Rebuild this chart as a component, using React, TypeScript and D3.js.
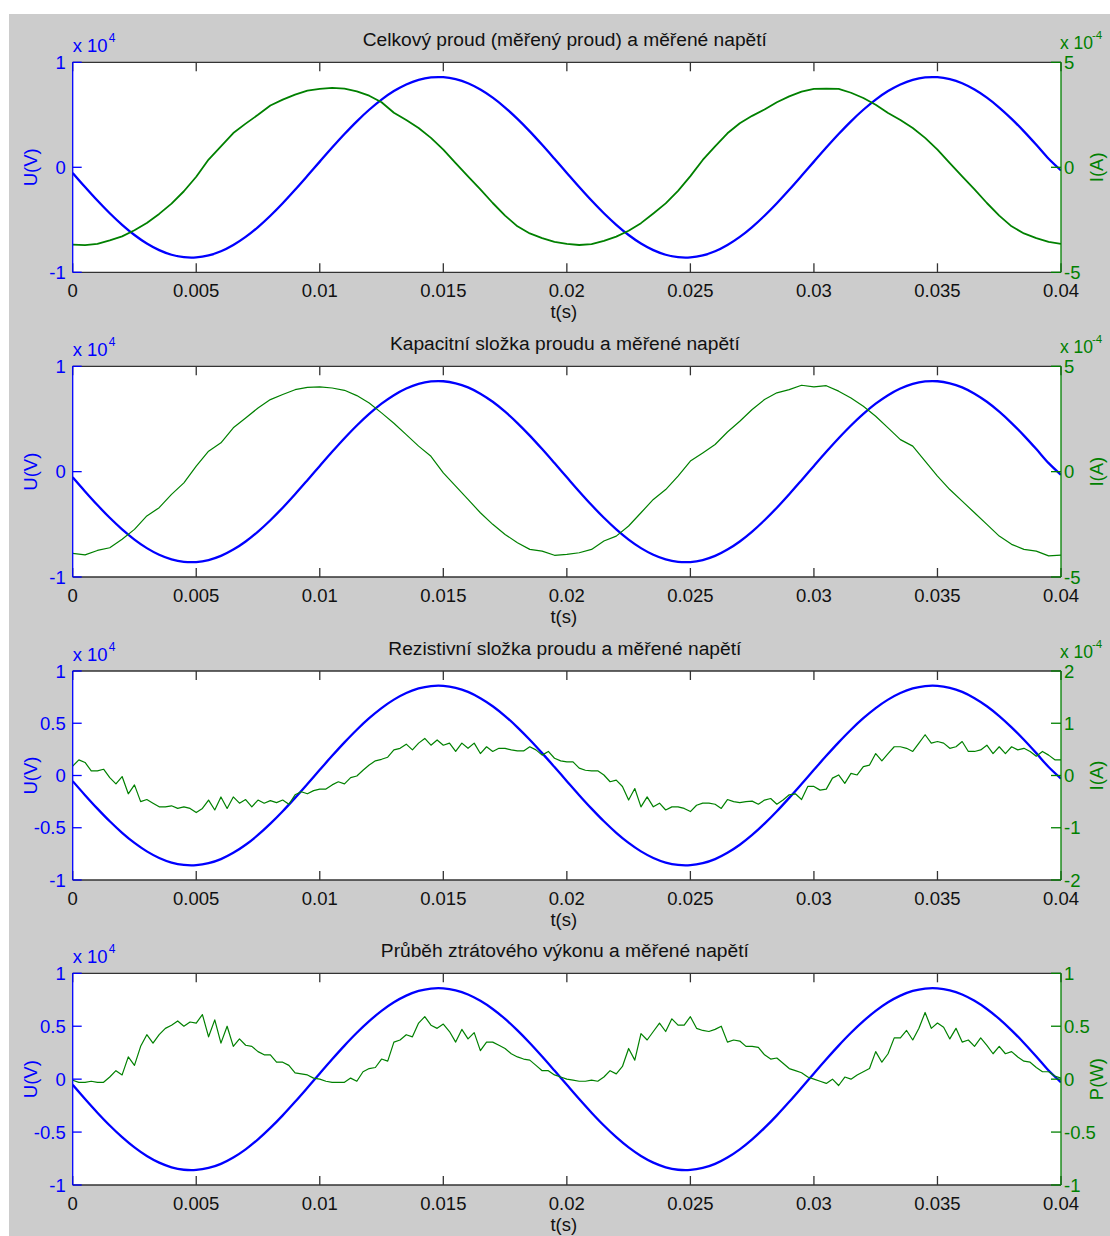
import React from 'react';
import * as d3 from 'd3';

// ---------- DATA ----------
// time grids (s)
const T_END = 0.04;
const STEP_COARSE = 0.0005; // 81 samples
const STEP_FINE = 0.00025; // 161 samples

// measured voltage, units of 1e4 V (sampled every 0.5 ms)
const voltage = [
  -0.054, -0.188, -0.317, -0.438, -0.548, -0.645, -0.726, -0.789, -0.833, -0.856,
  -0.858, -0.839, -0.800, -0.740, -0.663, -0.569, -0.461, -0.342, -0.214, -0.081,
  0.054, 0.188, 0.317, 0.438, 0.548, 0.645, 0.726, 0.789, 0.833, 0.856,
  0.858, 0.839, 0.800, 0.740, 0.663, 0.569, 0.461, 0.342, 0.214, 0.081,
  -0.054, -0.188, -0.317, -0.438, -0.548, -0.645, -0.726, -0.789, -0.833, -0.856,
  -0.858, -0.839, -0.800, -0.740, -0.663, -0.569, -0.461, -0.342, -0.214, -0.081,
  0.054, 0.188, 0.317, 0.438, 0.548, 0.645, 0.726, 0.789, 0.833, 0.856,
  0.858, 0.839, 0.800, 0.740, 0.663, 0.569, 0.461, 0.342, 0.214, 0.081,
  -0.03,
];

// total (measured) current, units of 1e-4 A (every 0.5 ms)
const currentTotal = [
  -3.68, -3.71, -3.65, -3.48, -3.29, -3.0, -2.65, -2.22, -1.73, -1.14,
  -0.45, 0.37, 1.0, 1.63, 2.08, 2.5, 2.94, 3.22, 3.46, 3.65,
  3.73, 3.78, 3.75, 3.62, 3.41, 3.1, 2.6, 2.25, 1.87, 1.4,
  0.84, 0.2, -0.43, -1.05, -1.7, -2.3, -2.81, -3.15, -3.37, -3.55,
  -3.65, -3.7, -3.66, -3.5, -3.3, -3.02, -2.66, -2.2, -1.72, -1.12,
  -0.42, 0.35, 1.0, 1.62, 2.1, 2.45, 2.75, 3.1, 3.38, 3.6,
  3.73, 3.75, 3.73, 3.55, 3.3, 2.98, 2.59, 2.25, 1.87, 1.4,
  0.84, 0.2, -0.43, -1.05, -1.7, -2.3, -2.81, -3.15, -3.37, -3.55,
  -3.65,
];

// capacitive component, units of 1e-4 A (every 0.5 ms)
const currentCap = [
  -3.88, -3.95, -3.74, -3.61, -3.21, -2.74, -2.1, -1.71, -1.08, -0.53,
  0.26, 0.97, 1.37, 2.08, 2.55, 3.02, 3.42, 3.66, 3.89, 4.0,
  4.02, 3.97, 3.86, 3.61, 3.26, 2.79, 2.3, 1.76, 1.21, 0.73,
  -0.06, -0.69, -1.32, -1.95, -2.5, -2.98, -3.37, -3.69, -3.77, -3.97,
  -3.93, -3.85, -3.69, -3.29, -3.06, -2.58, -1.95, -1.32, -0.85, -0.21,
  0.5, 0.89, 1.29, 1.88, 2.39, 2.95, 3.42, 3.74, 3.89, 4.1,
  4.02, 4.08, 3.82, 3.5, 3.1, 2.63, 2.08, 1.52, 1.21, 0.5,
  -0.21, -0.85, -1.4, -1.95, -2.5, -3.06, -3.45, -3.69, -3.77, -4.0,
  -3.96,
];

// resistive component, units of 1e-4 A (every 0.25 ms)
const currentRes = [
  0.18, 0.3, 0.25, 0.09, 0.09, 0.12, -0.04, -0.16,
  -0.02, -0.35, -0.18, -0.5, -0.46, -0.53, -0.6, -0.6,
  -0.58, -0.63, -0.6, -0.63, -0.71, -0.63, -0.47, -0.66,
  -0.41, -0.63, -0.41, -0.53, -0.46, -0.6, -0.47, -0.53,
  -0.48, -0.52, -0.47, -0.55, -0.37, -0.31, -0.35, -0.29,
  -0.26, -0.26, -0.18, -0.12, -0.16, -0.04, -0.01, 0.1,
  0.2, 0.28, 0.31, 0.35, 0.49, 0.52, 0.6, 0.49,
  0.62, 0.71, 0.58, 0.68, 0.58, 0.62, 0.46, 0.62,
  0.52, 0.62, 0.42, 0.55, 0.46, 0.52, 0.52, 0.49,
  0.47, 0.47, 0.55, 0.49, 0.39, 0.46, 0.33, 0.28,
  0.26, 0.26, 0.14, 0.1, 0.09, 0.09, 0.01, -0.12,
  -0.09, -0.21, -0.47, -0.25, -0.6, -0.41, -0.6, -0.53,
  -0.66, -0.6, -0.6, -0.63, -0.69, -0.57, -0.53, -0.53,
  -0.55, -0.63, -0.46, -0.5, -0.52, -0.5, -0.49, -0.55,
  -0.47, -0.44, -0.55, -0.47, -0.37, -0.35, -0.46, -0.21,
  -0.21, -0.28, -0.26, -0.05, 0.01, -0.15, 0.04, 0.01,
  0.17, 0.2, 0.42, 0.28, 0.42, 0.55, 0.55, 0.52,
  0.46, 0.62, 0.78, 0.62, 0.65, 0.62, 0.52, 0.55,
  0.65, 0.46, 0.46, 0.49, 0.58, 0.42, 0.55, 0.42,
  0.55, 0.49, 0.52, 0.46, 0.37, 0.46, 0.39, 0.3,
  0.3,
];

// loss power, W (every 0.25 ms)
const power = [
  -0.01, -0.03, -0.03, -0.02, -0.03, -0.03, 0.02, 0.08,
  0.04, 0.21, 0.13, 0.31, 0.42, 0.34, 0.42, 0.48,
  0.51, 0.55, 0.5, 0.54, 0.53, 0.61, 0.4, 0.56,
  0.34, 0.5, 0.31, 0.38, 0.32, 0.31, 0.26, 0.23,
  0.23, 0.16, 0.16, 0.13, 0.06, 0.05, 0.04, 0.01,
  0, -0.02, -0.03, -0.03, -0.03, 0.01, -0.02, 0.07,
  0.1, 0.11, 0.19, 0.17, 0.35, 0.37, 0.42, 0.4,
  0.53, 0.59, 0.51, 0.48, 0.52, 0.45, 0.35, 0.47,
  0.38, 0.44, 0.27, 0.35, 0.35, 0.32, 0.29, 0.24,
  0.21, 0.19, 0.18, 0.13, 0.08, 0.08, 0.04, 0.02,
  0, -0.01, -0.02, -0.02, -0.01, -0.02, 0.02, 0.08,
  0.05, 0.12, 0.29, 0.18, 0.43, 0.37, 0.45, 0.53,
  0.45, 0.57, 0.51, 0.51, 0.59, 0.48, 0.46, 0.45,
  0.47, 0.5, 0.35, 0.37, 0.36, 0.31, 0.31, 0.3,
  0.23, 0.19, 0.2, 0.15, 0.1, 0.08, 0.06, 0.02,
  0, -0.02, -0.04, 0, -0.06, 0.02, 0, 0.04,
  0.07, 0.1, 0.26, 0.16, 0.24, 0.39, 0.39, 0.46,
  0.37, 0.48, 0.63, 0.48, 0.53, 0.49, 0.38, 0.48,
  0.35, 0.37, 0.31, 0.39, 0.32, 0.24, 0.31, 0.24,
  0.26, 0.21, 0.17, 0.16, 0.11, 0.07, 0.07, 0.03,
  0.01,
];

const xTicks = [0, 0.005, 0.01, 0.015, 0.02, 0.025, 0.03, 0.035, 0.04];
const xTickLabels = ['0', '0.005', '0.01', '0.015', '0.02', '0.025', '0.03', '0.035', '0.04'];

const titles = [
  'Celkový proud (měřený proud) a měřené napětí',
  'Kapacitní složka proudu a měřené napětí',
  'Rezistivní složka proudu a měřené napětí',
  'Průběh ztrátového výkonu a měřené napětí',
];

const leftTicksCoarse = [-1, 0, 1];
const leftTicksFine = [-1, -0.5, 0, 0.5, 1];
const rightTicksA = [-5, 0, 5];
const rightTicksB = [-2, -1, 0, 1, 2];
const rightTicksC = [-1, -0.5, 0, 0.5, 1];

const leftLabel = 'U(V)';
const rightLabels = ['I(A)', 'I(A)', 'I(A)', 'P(W)'];
const leftExponent = '4';
const rightExponents = ['-4', '-4', '-4', null];

// ---------- LAYOUT ----------
const W = 1110;
const H = 1236;
const X0 = 72.7;
const X1 = 1061;
const panelTops = [62.3, 366.3, 671, 973.3];
const panelBottoms = [272.3, 577, 880, 1185];

const BLUE = '#0000ff';
const GREEN = '#008000';
const AXIS = '#333333';
const FONT = "'Liberation Sans', Arial, Helvetica, sans-serif";
const FS = 18.5;
const FS_TITLE = 19.2;

const fmt = (v: number) => String(v);

const panels = [
  { green: currentTotal, step: STEP_COARSE, lTicks: leftTicksCoarse, rTicks: rightTicksA, greenW: 1.8 },
  { green: currentCap, step: STEP_COARSE, lTicks: leftTicksCoarse, rTicks: rightTicksA, greenW: 1.2 },
  { green: currentRes, step: STEP_FINE, lTicks: leftTicksFine, rTicks: rightTicksB, greenW: 1.2 },
  { green: power, step: STEP_FINE, lTicks: leftTicksFine, rTicks: rightTicksC, greenW: 1.2 },
];

function Panel({ idx }: { idx: number }) {
  const p = panels[idx];
  const top = panelTops[idx];
  const bottom = panelBottoms[idx];
  const x = d3.scaleLinear().domain([0, T_END]).range([X0, X1]);
  const yL = d3.scaleLinear().domain([-1, 1]).range([bottom, top]);
  const rExt = d3.extent(p.rTicks) as [number, number];
  const yR = d3.scaleLinear().domain(rExt).range([bottom, top]);

  const blueLine = d3
    .line<number>()
    .x((_, i) => x(i * STEP_COARSE))
    .y((d) => yL(d))
    .curve(d3.curveCatmullRom)(voltage) as string;
  const greenLine = d3
    .line<number>()
    .x((_, i) => x(i * p.step))
    .y((d) => yR(d))
    .curve(d3.curveLinear)(p.green) as string;

  const midY = (top + bottom) / 2;
  const midX = (X0 + X1) / 2;
  const clipId = `clip${idx}`;

  return (
    <g>
      <defs>
        <clipPath id={clipId}>
          <rect x={X0} y={top - 2} width={X1 - X0} height={bottom - top + 4} />
        </clipPath>
      </defs>
      <rect x={X0} y={top} width={X1 - X0} height={bottom - top} fill="#ffffff" />
      {/* title */}
      <text x={midX - 2} y={top - 16} textAnchor="middle" fontSize={FS_TITLE} fill="#111">
        {titles[idx]}
      </text>
      {/* x ticks */}
      {xTicks.map((t, i) => (
        <g key={i}>
          <line x1={x(t)} x2={x(t)} y1={bottom} y2={bottom - 9} stroke={AXIS} strokeWidth={1.3} />
          <line x1={x(t)} x2={x(t)} y1={top} y2={top + 9} stroke={AXIS} strokeWidth={1.3} />
          <text x={x(t)} y={bottom + 25} textAnchor="middle" fontSize={FS} fill="#111">
            {xTickLabels[i]}
          </text>
        </g>
      ))}
      <text x={midX - 3} y={bottom + 46} textAnchor="middle" fontSize={FS} fill="#111">
        t(s)
      </text>
      {/* box top / bottom */}
      <line x1={X0} x2={X1} y1={top} y2={top} stroke={AXIS} strokeWidth={1.3} />
      <line x1={X0} x2={X1} y1={bottom} y2={bottom} stroke={AXIS} strokeWidth={1.3} />
      {/* curves */}
      <g clipPath={`url(#${clipId})`}>
        <path d={blueLine} fill="none" stroke={BLUE} strokeWidth={2.3} strokeLinejoin="round" />
        <path d={greenLine} fill="none" stroke={GREEN} strokeWidth={p.greenW} strokeLinejoin="round" />
      </g>
      {/* left axis */}
      <line x1={X0} x2={X0} y1={top} y2={bottom} stroke={BLUE} strokeWidth={1.3} />
      {p.lTicks.map((v, i) => (
        <g key={i}>
          <line x1={X0} x2={X0 + 9} y1={yL(v)} y2={yL(v)} stroke={BLUE} strokeWidth={1.3} />
          <text x={X0 - 7} y={yL(v)} dy="0.36em" textAnchor="end" fontSize={FS} fill={BLUE}>
            {fmt(v)}
          </text>
        </g>
      ))}
      <text x={X0} y={top - 10} fontSize={FS} fill={BLUE}>
        x 10
      </text>
      <text x={X0 + 36} y={top - 20} fontSize={12} fill={BLUE}>
        {leftExponent}
      </text>
      <text
        transform={`translate(${37},${midY}) rotate(-90)`}
        textAnchor="middle"
        fontSize={FS}
        fill={BLUE}
      >
        {leftLabel}
      </text>
      {/* right axis */}
      <line x1={X1} x2={X1} y1={top} y2={bottom} stroke={GREEN} strokeWidth={1.3} />
      {p.rTicks.map((v, i) => (
        <g key={i}>
          <line x1={X1} x2={X1 - 10} y1={yR(v)} y2={yR(v)} stroke={GREEN} strokeWidth={1.3} />
          <text x={X1 + 3} y={yR(v)} dy="0.36em" textAnchor="start" fontSize={FS} fill={GREEN}>
            {fmt(v)}
          </text>
        </g>
      ))}
      {rightExponents[idx] && (
        <g>
          <text x={X1 - 1} y={top - 13} fontSize={17.5} fill={GREEN}>
            x 10
          </text>
          <text x={X1 + 31} y={top - 23} fontSize={11.5} fill={GREEN}>
            {rightExponents[idx]}
          </text>
        </g>
      )}
      <text
        transform={`translate(${1103},${midY}) rotate(-90)`}
        textAnchor="middle"
        fontSize={FS}
        fill={GREEN}
      >
        {rightLabels[idx]}
      </text>
    </g>
  );
}

export default function App() {
  return (
    <svg
      width={W}
      height={H}
      viewBox={`0 0 ${W} ${H}`}
      style={{ position: 'absolute', left: 0, top: 0, display: 'block' }}
      fontFamily={FONT}
    >
      <rect x={0} y={0} width={W} height={H} fill="#ffffff" />
      <rect x={9} y={14} width={W - 9} height={H - 14} fill="#cccccc" />
      {panels.map((_, i) => (
        <Panel key={i} idx={i} />
      ))}
    </svg>
  );
}
